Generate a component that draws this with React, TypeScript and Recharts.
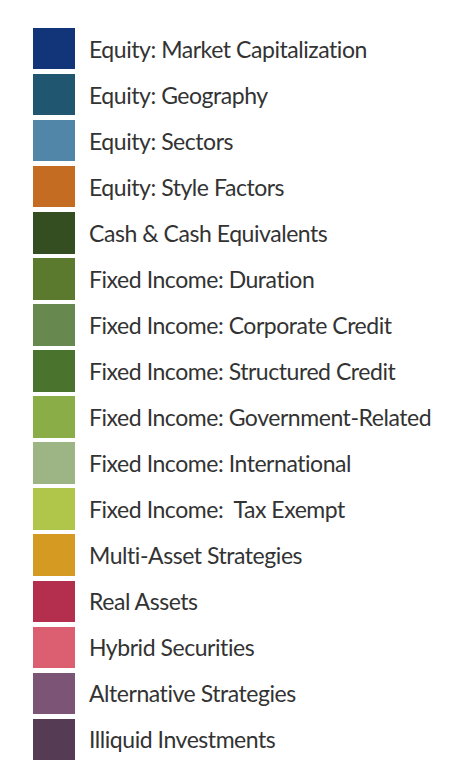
import React from 'react';
import { PieChart, Pie, Cell, Legend } from 'recharts';

// Legend categories (top to bottom)
const categories = [
  'Equity: Market Capitalization',
  'Equity: Geography',
  'Equity: Sectors',
  'Equity: Style Factors',
  'Cash & Cash Equivalents',
  'Fixed Income: Duration',
  'Fixed Income: Corporate Credit',
  'Fixed Income: Structured Credit',
  'Fixed Income: Government-Related',
  'Fixed Income: International',
  'Fixed Income:  Tax Exempt',
  'Multi-Asset Strategies',
  'Real Assets',
  'Hybrid Securities',
  'Alternative Strategies',
  'Illiquid Investments',
];

const colors = [
  '#12357a',
  '#215670',
  '#5186a8',
  '#c56c23',
  '#344e22',
  '#5b7a2e',
  '#67884f',
  '#4a732d',
  '#8aad48',
  '#9db584',
  '#afc64a',
  '#d49a22',
  '#b32f4d',
  '#db5f70',
  '#7c5475',
  '#553b53',
];

// No values are shown in the reference; every category gets an equal share
const shares = [1, 1, 1, 1, 1, 1, 1, 1, 1, 1, 1, 1, 1, 1, 1, 1];

const chartData = categories.map((name, i) => ({
  name,
  value: shares[i],
  fill: colors[i],
}));

const LegendList = (props: any) => {
  // keep the original category order (recharts sorts by name otherwise)
  const items = [...(props.payload || [])].sort(
    (a: any, b: any) => categories.indexOf(a.value) - categories.indexOf(b.value)
  );
  return (
    <ul style={{ listStyle: 'none', margin: 0, padding: 0 }}>
      {items.map((item: any, i: number) => (
        <li
          key={i}
          style={{ display: 'flex', alignItems: 'center', height: 46.07 }}
        >
          <span
            style={{
              display: 'inline-block',
              width: 42,
              height: 41.5,
              background: item.color,
              marginRight: 14,
            }}
          />
          <span
            style={{
              fontFamily: 'Lato, sans-serif',
              fontSize: 23,
              color: '#333333',
              whiteSpace: 'pre',
              letterSpacing: -0.45,
            }}
          >
            {item.value}
          </span>
        </li>
      ))}
    </ul>
  );
};

const App = () => {
  return (
    <div style={{ position: 'absolute', left: 0, top: 0 }}>
      <PieChart width={462} height={774} margin={{ top: 0, right: 0, bottom: 0, left: 0 }}>
        <Pie
          data={chartData}
          dataKey="value"
          nameKey="name"
          cx={-100}
          cy={-100}
          outerRadius={0}
          isAnimationActive={false}
          stroke="none"
        >
          {chartData.map((d, i) => (
            <Cell key={i} fill={d.fill} />
          ))}
        </Pie>
        <Legend
          layout="vertical"
          align="left"
          verticalAlign="top"
          wrapperStyle={{ left: 33, top: 25.5, width: 429 }}
          content={<LegendList />}
        />
      </PieChart>
    </div>
  );
};

export default App;
